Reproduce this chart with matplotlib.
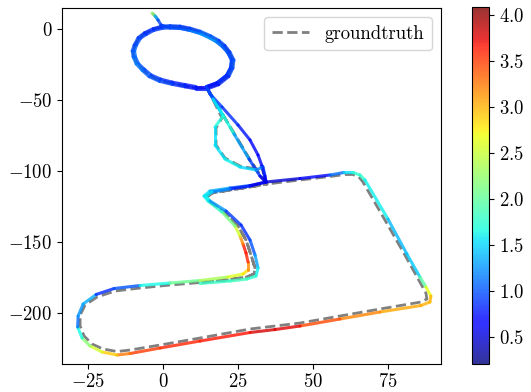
import numpy as np
import matplotlib
matplotlib.use("Agg")
import matplotlib.pyplot as plt
from matplotlib.collections import LineCollection
from matplotlib.colors import Normalize

plt.rcParams['font.family'] = ['cmr10']
plt.rcParams['mathtext.fontset'] = 'cm'
plt.rcParams['axes.formatter.use_mathtext'] = True
plt.rcParams['font.size'] = 13.5

# ================= groundtruth parts (x, y) =================
gt_tail_x = [-3.77, -2.43, -1.43, -0.43]
gt_tail_y = [11.28, 8.46, 4.93, 1.41]

# ring, clockwise from the top (index 12 = bottom junction)
gt_loop_x = [2.23, 5.57, 8.90, 12.23, 15.57, 18.23, 20.23, 21.90, 23.23, 22.90, 21.57, 18.23, 14.57,
             10.90, 7.23, 2.90, -1.10, -4.43, -6.77, -8.77, -9.77, -10.10, -9.43, -8.10, -6.10, -3.43, -0.43]
gt_loop_y = [1.76, 1.41, 0.00, -2.11, -5.29, -8.46, -11.98, -16.21, -21.85, -27.49, -33.13, -38.77, -41.59,
             -41.59, -40.18, -38.42, -36.31, -33.13, -28.90, -24.67, -19.74, -15.51, -11.28, -6.34, -3.17, -0.35, 1.41]

gt_diag_x = [18.90, 23.90, 28.90, 32.90, 34.57]
gt_diag_y = [-57.10, -74.73, -92.35, -105.04, -109.27]

gt_rect_x = [45.57, 55.57, 60.57, 63.23, 65.23, 66.57,
             73.90, 80.57, 85.57, 87.57, 87.90, 85.90,
             72.23, 58.90, 45.57, 37.23, 28.90, 12.23, -1.10, -11.10, -15.43, -20.10, -23.77, -26.43, -27.77, -27.77, -26.10, -22.10, -16.10,
             -7.77, 2.23, 12.23, 22.23, 27.90, 30.23, 30.57, 29.23, 27.57, 24.90, 20.23, 15.57, 14.57, 16.23, 22.23, 28.90, 34.57]
gt_rect_y = [-106.45, -103.98, -102.57, -102.57, -104.33, -107.86,
             -134.65, -159.32, -178.36, -186.11, -190.34, -192.46,
             -197.40, -202.33, -207.27, -209.38, -211.49, -217.84, -222.77, -226.30, -227.35, -225.59, -222.07, -216.43, -209.38, -201.63, -194.58, -188.93, -184.70,
             -182.59, -180.47, -178.71, -176.60, -174.83, -172.72, -168.49, -159.32, -148.75, -138.88, -129.01, -121.96, -118.44, -115.62, -113.50, -111.39, -109.27]

gt_lens_x = [16.57, 19.57, 17.57, 17.57, 20.57, 25.57, 30.90, 32.90, 33.57, 34.57]
gt_lens_y = [-50.05, -62.74, -69.79, -81.78, -90.94, -96.58, -98.70, -96.58, -103.63, -109.27]

gt_back_x = [28.90, 22.23, 16.23, 14.57, 15.57, 20.23, 24.90, 27.57, 29.23, 30.57, 30.23, 27.90, 22.23, 12.23]
gt_back_y = [-111.39, -113.50, -115.62, -118.44, -121.96, -129.01, -138.88, -148.75, -159.32, -168.49, -172.72, -174.83, -176.60, -178.71]

# ================= estimated trajectory parts (x, y, error) =================
est_tail_x = [-3.77, -2.77, -1.77, -0.77]
est_tail_y = [11.28, 9.16, 6.34, 2.82]
est_tail_e = [2.9, 1.6, 1.0, 0.9]

est_loop1_x = [2.23, 5.57, 8.90, 12.23, 15.40, 17.83, 19.73, 21.40, 22.73, 22.40, 21.07, 17.83, 14.37,
               10.90, 7.23, 2.90, -0.90, -4.03, -6.27, -8.27, -9.27, -9.60, -8.93, -7.60, -5.70, -3.23, -0.43]
est_loop1_y = [0.76, 0.41, -1.00, -3.11, -6.20, -9.16, -12.48, -16.41, -21.85, -27.29, -32.63, -37.97, -40.59,
               -40.59, -39.18, -37.42, -35.31, -32.43, -28.40, -24.47, -19.74, -15.51, -11.28, -6.54, -3.87, -1.05, 0.41]
est_loop1_e = [0.9, 1.0, 1.0, 1.1, 1.2, 1.1, 1.0, 1.0, 0.9, 0.9, 0.9, 0.8, 0.7,
               0.7, 0.8, 0.8, 0.9, 0.9, 1.0, 1.0, 1.1, 1.1, 1.0, 1.0, 0.9, 0.9, 0.9]
est_loop1b_e = [1.0, 1.0, 1.1, 1.2, 1.3, 1.2, 1.1, 1.0, 1.0, 0.9, 0.9, 0.8, 0.7]

est_diag_x = [16.23, 18.90, 23.57, 28.57, 32.23, 34.23]
est_diag_y = [-47.94, -57.10, -74.02, -91.65, -103.63, -107.86]
est_diag_e = [1.2, 1.8, 1.5, 1.1, 0.7, 0.5]

est_rect_x = [45.57, 55.57, 60.23, 63.23, 65.57, 67.23,
              74.90, 81.23, 85.57, 87.57, 89.23, 88.90, 85.90,
              72.23, 58.90, 45.57, 37.23, 28.90, 12.23, -1.10, -11.10, -15.43, -20.43, -24.43, -27.10, -28.60, -28.43, -26.77, -22.43, -16.43,
              -7.77, 2.23, 12.23, 21.57, 26.57, 28.23, 28.23, 27.57, 26.57, 25.57, 23.90, 19.57, 14.90, 13.57, 15.57, 22.23, 28.90, 34.23]
est_rect_y = [-105.39, -102.93, -101.16, -101.16, -102.93, -106.45,
              -133.94, -158.62, -174.83, -181.88, -188.23, -192.46, -194.93,
              -199.51, -204.44, -209.38, -211.85, -213.96, -219.95, -224.89, -228.76, -229.82, -227.71, -223.48, -217.84, -210.08, -202.33, -193.87, -187.17, -182.94,
              -180.82, -179.06, -177.30, -174.83, -172.72, -169.90, -164.26, -157.91, -151.57, -145.93, -138.88, -129.01, -121.26, -117.73, -114.21, -112.09, -110.33, -107.86]
est_rect_e = [0.5, 0.8, 1.4, 1.7, 1.8, 1.7,
              1.5, 1.3, 1.6, 2.3, 3.0, 3.0, 3.0,
              3.1, 3.3, 3.6, 3.9, 3.7, 3.6, 3.6, 3.4, 3.1, 2.7, 2.4, 2.0, 1.3, 0.9, 1.6, 1.1, 0.6,
              1.4, 1.9, 2.2, 2.5, 2.7, 2.9, 3.4, 3.8, 3.5, 2.8, 2.3, 1.9, 1.6, 1.6, 1.5, 1.2, 0.8, 0.5]

est_up_x = [32.90, 31.57, 28.90, 24.90, 19.57, 15.57, 14.67]
est_up_y = [-96.58, -88.82, -78.25, -67.68, -54.99, -45.82, -42.19]
est_up_e = [0.6, 0.6, 0.7, 0.8, 0.9, 0.9, 0.8]

est_loop2_x = [2.23, 5.57, 8.90, 12.23, 15.77, 18.53, 20.53, 22.20, 23.53, 23.20, 21.87, 18.43, 14.67,
               10.90, 7.23, 2.90, -1.30, -4.73, -7.07, -9.07, -10.07, -10.40, -9.73, -8.40, -6.30, -3.43, -0.43]
est_loop2_y = [2.36, 2.01, 0.60, -1.51, -4.79, -8.06, -11.68, -16.21, -21.85, -27.59, -33.43, -39.27, -42.19,
               -42.19, -40.78, -39.02, -36.91, -33.63, -29.20, -24.67, -19.74, -15.51, -11.28, -6.04, -2.67, 0.25, 2.01]
est_loop2_e = [1.0, 0.9, 0.9, 1.0, 1.1, 1.0, 0.9, 0.9, 1.0, 1.0, 0.9, 0.8, 0.7,
               0.7, 0.8, 0.9, 1.0, 1.0, 1.1, 1.2, 1.1, 1.0, 1.0, 0.9, 0.9, 0.8, 0.9]

est_lens_x = [16.57, 19.90, 17.23, 17.23, 20.57, 25.57, 30.90, 33.23, 33.90, 34.23]
est_lens_y = [-49.35, -61.33, -69.09, -81.78, -91.65, -97.29, -99.40, -97.29, -103.63, -107.86]
est_lens_e = [1.3, 1.8, 1.6, 1.5, 1.6, 1.6, 1.4, 1.0, 0.7, 0.5]

est_back_x = [28.90, 22.23, 16.23, 14.23, 15.57, 20.90, 25.90, 28.90, 30.57, 31.57, 30.90, 27.90, 22.23, 12.23]
est_back_y = [-110.68, -112.80, -114.91, -117.73, -121.26, -128.30, -138.17, -148.75, -159.32, -168.49, -174.13, -176.25, -177.66, -179.41]
est_back_e = [0.6, 1.0, 1.4, 1.7, 1.5, 1.0, 0.8, 0.9, 1.1, 1.5, 1.7, 1.8, 1.9, 1.7]

err_min, err_max = 0.2, 4.09
cbar_ticks = [0.5, 1.0, 1.5, 2.0, 2.5, 3.0, 3.5, 4.0]
x_ticks = [-25, 0, 25, 50, 75]
y_ticks = [0, -50, -100, -150, -200]

# ---- assemble the paths in driving order ----
H = 13  # ring points from top to bottom junction
gt_x = (gt_tail_x + gt_loop_x + gt_loop_x[:H] + gt_diag_x + gt_rect_x + gt_diag_x[::-1][1:]
        + gt_loop_x[H - 1:H] + gt_loop_x[H:] + gt_loop_x[:H] + gt_lens_x + gt_back_x)
gt_y = (gt_tail_y + gt_loop_y + gt_loop_y[:H] + gt_diag_y + gt_rect_y + gt_diag_y[::-1][1:]
        + gt_loop_y[H - 1:H] + gt_loop_y[H:] + gt_loop_y[:H] + gt_lens_y + gt_back_y)

est_x = (est_tail_x + est_loop1_x + est_loop1_x[:H] + est_diag_x + est_rect_x + est_up_x
         + est_loop2_x[H:] + est_loop2_x[:H] + est_lens_x + est_back_x)
est_y = (est_tail_y + est_loop1_y + est_loop1_y[:H] + est_diag_y + est_rect_y + est_up_y
         + est_loop2_y[H:] + est_loop2_y[:H] + est_lens_y + est_back_y)
est_e = (est_tail_e + est_loop1_e + est_loop1b_e + est_diag_e + est_rect_e + est_up_e
         + est_loop2_e[H:] + est_loop2_e[:H] + est_lens_e + est_back_e)

fig = plt.figure(figsize=(5.31, 3.92), dpi=100)
ax = fig.add_axes([0.1168, 0.0727, 0.7137, 0.9069])
cax = fig.add_axes([0.888, 0.0707, 0.033, 0.912])

ax.plot(gt_x, gt_y, linestyle='--', color='gray', linewidth=2.0, label='groundtruth')

pts = np.column_stack([est_x, est_y])
segs = np.stack([pts[:-1], pts[1:]], axis=1)
e = np.asarray(est_e)
seg_c = (e[:-1] + e[1:]) / 2.0
norm = Normalize(vmin=err_min, vmax=err_max)
lc = LineCollection(segs, cmap='jet', norm=norm, alpha=0.8, linewidths=2.2,
                    capstyle='round', joinstyle='round')
lc.set_array(seg_c)
ax.add_collection(lc)

ax.set_xlim(-33.8, 92.6)
ax.set_ylim(-235.8, 14.8)
ax.set_xticks(x_ticks)
ax.set_yticks(y_ticks)
ax.legend(loc='upper right', fontsize=13.5)

cb = fig.colorbar(lc, cax=cax)
cb.set_ticks(cbar_ticks)
cb.solids.set_alpha(0.8)

fig.savefig('out.png', dpi=100)
